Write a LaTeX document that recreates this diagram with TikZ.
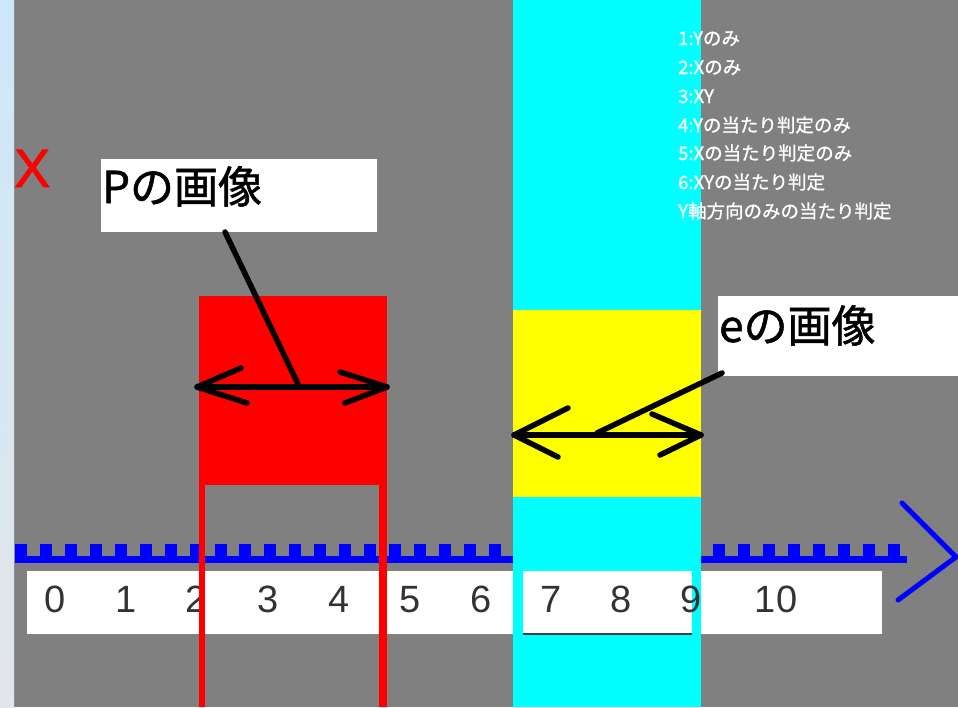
\documentclass[tikz,border=0pt]{standalone}
\usepackage{fontspec}
\setmainfont{Liberation Sans}
\newfontfamily\sansx{Liberation Sans}[FakeBold=1.5]
\newfontfamily\jp{Noto Sans CJK JP}[FakeBold=1.2]
\newfontfamily\jpi{Noto Sans CJK JP}[FakeBold=1.0]
\definecolor{bggray}{RGB}{128,128,128}
\definecolor{stripa}{RGB}{205,232,250}
\definecolor{stripb}{RGB}{226,229,233}
\definecolor{numgray}{RGB}{51,51,51}
\definecolor{linegray}{RGB}{64,64,64}
\definecolor{cyanc}{RGB}{0,255,255}
\definecolor{yellowc}{RGB}{255,255,0}
\definecolor{redc}{RGB}{255,0,0}
\definecolor{bluec}{RGB}{0,0,255}
\begin{document}
\begin{tikzpicture}[x=1pt,y=-1pt,
  lbl/.style={fill=white,draw=none,inner sep=0pt,anchor=north west},
  blk/.style={line width=5.5pt,line cap=round,line join=round,draw=black},
  num/.style={font=\fontsize{38}{38}\selectfont,text=numgray,anchor=base,inner sep=0pt},
  info/.style={font=\jpi\fontsize{18.5}{18.5}\selectfont,text=white,anchor=base west,inner sep=0pt},
  big/.style={font=\jp\fontsize{44}{44}\selectfont,text=black,anchor=base west,inner sep=0pt}]
\useasboundingbox (0,0) rectangle (958,707);
% background
\fill[bggray] (0,0) rectangle (958,707);
\shade[top color=stripa,bottom color=stripb] (0,0) rectangle (14,707);
% axis
\fill[bluec] (15,556) rectangle (907,563);
\foreach \k in {0,...,35} \fill[bluec] ({15+24.94*\k},544) rectangle ({27+24.94*\k},557);
% number strip
\node[lbl,minimum width=855pt,minimum height=63pt] (strip) at (27,571) {};
% cyan column
\fill[cyanc] (513,0) rectangle (701,707);
\node[lbl,minimum width=169pt,minimum height=63pt] (strip2) at (523,571) {};
\draw[linegray,line width=2pt] (strip2.south west) -- (strip2.south east);
% yellow and red
\fill[yellowc] (513,310) rectangle (701,497);
\fill[redc] (199,296) rectangle (387,485);
% numbers
\foreach \n/\x in {0/55,1/126,2/196,3/268,4/339,5/410,6/481,7/551,8/621,9/691,10/776}
  \node[num] (n\n) at (\x,612) {\n};
% red lines
\fill[redc] (199,485) rectangle (205,707);
\fill[redc] (379,485) rectangle (387,707);
% blue arrowhead
\draw[bluec,line width=5pt,line cap=round,line join=round] (902,503) -- (956,557) -- (898,600);
% X
\node[text=redc,font=\sansx\fontsize{54}{54}\selectfont,anchor=base west,inner sep=0pt] (xlab) at (14,187) {X};
% info text
\foreach \t/\y [count=\i] in {1:Yのみ/45,2:Xのみ/74,3:XY/103,4:Yの当たり判定のみ/132,5:Xの当たり判定のみ/160,6:XYの当たり判定/189,Y軸方向のみの当たり判定/218}
  \node[info] (info\i) at (678,\y) {\t};
% P label
\node[lbl,minimum width=276pt,minimum height=73pt] (pbox) at (101,159) {};
\node[big] (ptext) at (102,203) {Pの画像};
\coordinate (ptop) at (225,232);
\coordinate (pmid) at (298,384);
\coordinate (pl) at (197,387);
\coordinate (pr) at (387,387);
\draw[blk] (ptop) -- (pmid);
\draw[blk] (pl) -- (pr);
\draw[blk] (241,368) -- (pl) -- (247,403);
\draw[blk] (340,372) -- (pr) -- (345,403);
% e label
\node[lbl,minimum width=240pt,minimum height=80pt] (ebox) at (718,296) {};
\node[big] (etext) at (719,342) {eの画像};
\coordinate (etop) at (722,373);
\coordinate (emid) at (597,433);
\coordinate (el) at (514,435);
\coordinate (er) at (701,435);
\draw[blk] (etop) -- (emid);
\draw[blk] (el) -- (er);
\draw[blk] (568,408) -- (el) -- (558,457);
\draw[blk] (652,414) -- (er) -- (660,455);
\end{tikzpicture}
\end{document}
